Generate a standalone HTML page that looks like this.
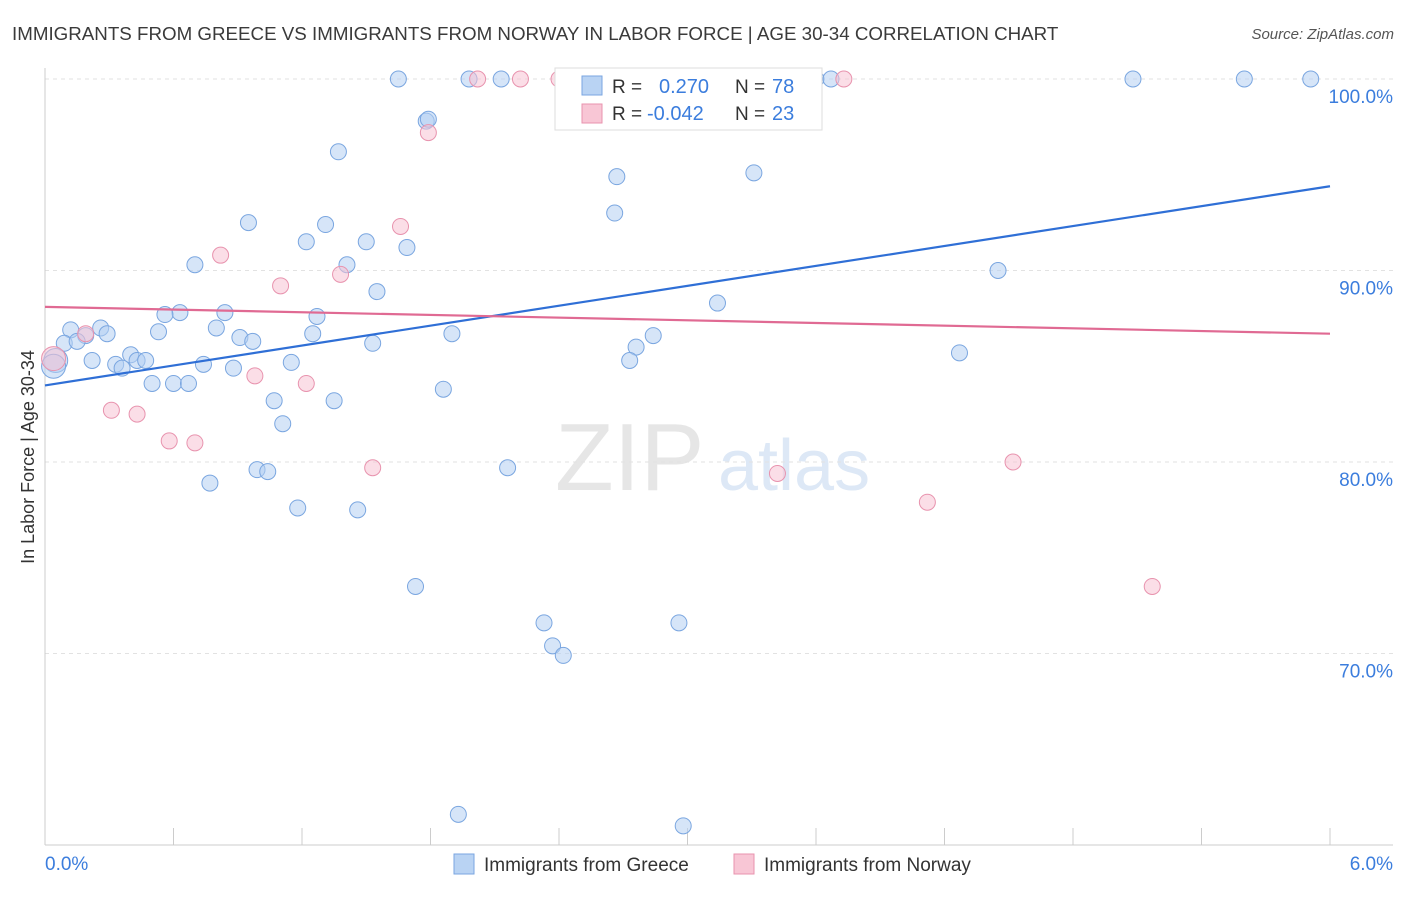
<!DOCTYPE html>
<html><head><meta charset="utf-8">
<style>
body{margin:0;background:#fff;font-family:"Liberation Sans",sans-serif;}
svg text{font-family:"Liberation Sans",sans-serif;}
</style></head>
<body>
<svg id="chart" width="1406" height="892" xmlns="http://www.w3.org/2000/svg">
<text x="12" y="40" font-size="18.75" fill="#3a3a3a">IMMIGRANTS FROM GREECE VS IMMIGRANTS FROM NORWAY IN LABOR FORCE | AGE 30-34 CORRELATION CHART</text>
<text x="1394" y="39" font-size="15" fill="#555" text-anchor="end" font-style="italic">Source: ZipAtlas.com</text>
<g>
<text x="555" y="490" font-size="96" fill="#e6e6e6" font-family="Liberation Serif,serif">ZIP</text>
<text x="718" y="490" font-size="72" fill="#dde8f6">atlas</text>
</g>
<text transform="translate(34,457) rotate(-90)" font-size="18" fill="#333" text-anchor="middle">In Labor Force | Age 30-34</text>
<g id="grid"></g>
<g id="marks"></g>
<g>
<rect x="555" y="68" width="267" height="62" fill="#fff" stroke="#ddd"/>
<rect x="582" y="76" width="20" height="19" fill="#b9d3f3" stroke="#7aa6e0"/>
<rect x="582" y="104" width="20" height="19" fill="#f8c6d5" stroke="#e893ae"/>
<text x="612" y="93" font-size="19" fill="#333">R = </text><text x="659" y="93" font-size="20" fill="#3b7ddd">0.270</text>
<text x="735" y="93" font-size="19" fill="#333">N = </text><text x="772" y="93" font-size="20" fill="#3b7ddd">78</text>
<text x="612" y="120" font-size="19" fill="#333">R = </text><text x="647" y="120" font-size="20" fill="#3b7ddd">-0.042</text>
<text x="735" y="120" font-size="19" fill="#333">N = </text><text x="772" y="120" font-size="20" fill="#3b7ddd">23</text>
</g>
<g>
<rect x="454" y="854" width="20" height="20" fill="#b9d3f3" stroke="#7aa6e0"/>
<text x="484" y="871" font-size="19" fill="#333">Immigrants from Greece</text>
<rect x="734" y="854" width="20" height="20" fill="#f8c6d5" stroke="#e893ae"/>
<text x="764" y="871" font-size="19" fill="#333">Immigrants from Norway</text>
</g>
</svg>
<script>
const xTicks=[0,0.6,1.2,1.8,2.4,3.0,3.6,4.2,4.8,5.4,6.0];
const yTicks=[70,80,90,100];
const yTickLabels=["70.0%","80.0%","90.0%","100.0%"];
const greeceX=[1.65,1.98,2.13,2.57,3.39,3.60,3.67,5.08,5.60,5.91,1.78,1.79,1.37,2.67,3.31,2.66,0.95,1.31,1.22,1.50,1.69,0.70,1.41,4.45,1.55,3.14,0.63,0.56,0.84,1.27,0.80,0.53,0.26,0.29,0.12,0.19,0.09,0.15,0.91,0.97,1.25,1.90,1.53,2.84,2.76,2.73,4.27,0.40,0.43,0.47,0.33,0.36,0.22,0.05,0.04,0.74,0.88,1.15,0.50,0.60,0.67,1.86,1.07,1.35,1.11,2.16,0.99,1.04,0.77,1.18,1.46,1.73,2.33,2.96,2.37,2.42,1.93,2.98];
const greeceY=[100,100,100,99.8,100,100,100,100,100,100,97.8,97.9,96.2,94.9,95.1,93.0,92.5,92.4,91.5,91.5,91.2,90.3,90.3,90.0,88.9,88.3,87.8,87.7,87.8,87.6,87.0,86.8,87.0,86.7,86.9,86.6,86.2,86.3,86.5,86.3,86.7,86.7,86.2,86.6,86.0,85.3,85.7,85.6,85.3,85.3,85.1,84.9,85.3,85.3,85.0,85.1,84.9,85.2,84.1,84.1,84.1,83.8,83.2,83.2,82.0,79.7,79.6,79.5,78.9,77.6,77.5,73.5,71.6,71.6,70.4,69.9,61.6,61.0];
const norwayX=[0.04,0.19,0.31,0.43,0.58,0.70,0.82,0.98,1.10,1.22,1.38,1.53,1.66,1.79,2.02,2.22,2.40,3.27,3.73,3.42,4.12,4.52,5.17];
const norwayY=[85.4,86.7,82.7,82.5,81.1,81.0,90.8,84.5,89.2,84.1,89.8,79.7,92.3,97.2,100,100,100,100,100,79.4,77.9,80.0,73.5];
const greeceTrend=[84.0,94.4];
const norwayTrend=[88.1,86.7];
const NS="http://www.w3.org/2000/svg";
const X=v=>45+v/6*1285;
const Y=v=>79+(100-v)*19.15;
function mk(t,a,p){const e=document.createElementNS(NS,t);for(const k in a)e.setAttribute(k,a[k]);p.appendChild(e);return e;}
const grid=document.getElementById('grid'),marks=document.getElementById('marks');
yTicks.forEach((t,i)=>{
 const l=mk('line',{x1:45,x2:1393,y1:Y(t),y2:Y(t),stroke:'#e2e2e2','stroke-dasharray':'4,4'},grid);
 
 
 const tx=mk('text',{x:1393,y:Y(t)+24,'font-size':19,fill:'#3b7ddd','text-anchor':'end'},grid);
 tx.textContent=yTickLabels[i];
 
 
});
const ya=mk('line',{x1:45,x2:45,y1:68,y2:845,stroke:'#ccc'},grid);


const xa=mk('line',{x1:45,x2:1393,y1:845,y2:845,stroke:'#ccc'},grid);


xTicks.forEach(t=>{
 const l=mk('line',{x1:X(t),x2:X(t),y1:828,y2:845,stroke:'#ccc'},grid);
 
 
});
const x0=mk('text',{x:45,y:870,'font-size':19,fill:'#3b7ddd'},grid);x0.textContent='0.0%';


const x1=mk('text',{x:1393,y:870,'font-size':19,fill:'#3b7ddd','text-anchor':'end'},grid);x1.textContent='6.0%';


function pts(xs,ys,fill,stroke,name){
 xs.forEach((x,i)=>{
  const big=x<0.06;
  const c=mk('circle',{cx:X(x),cy:Y(ys[i]),r:big?12:8,fill:fill,'fill-opacity':0.55,stroke:stroke,'stroke-width':1},marks);
  
  
 });
}
pts(greeceX,greeceY,'#b4d0f3','#7aa6e0','greece-point');
pts(norwayX,norwayY,'#f8c3d3','#e893ae','norway-point');
const bl=mk('line',{x1:X(0),y1:Y(greeceTrend[0]),x2:X(6),y2:Y(greeceTrend[1]),stroke:'#2f6fd6','stroke-width':2.2},marks);


const pl=mk('line',{x1:X(0),y1:Y(norwayTrend[0]),x2:X(6),y2:Y(norwayTrend[1]),stroke:'#e06a93','stroke-width':2.2},marks);


</script>
</body></html>
